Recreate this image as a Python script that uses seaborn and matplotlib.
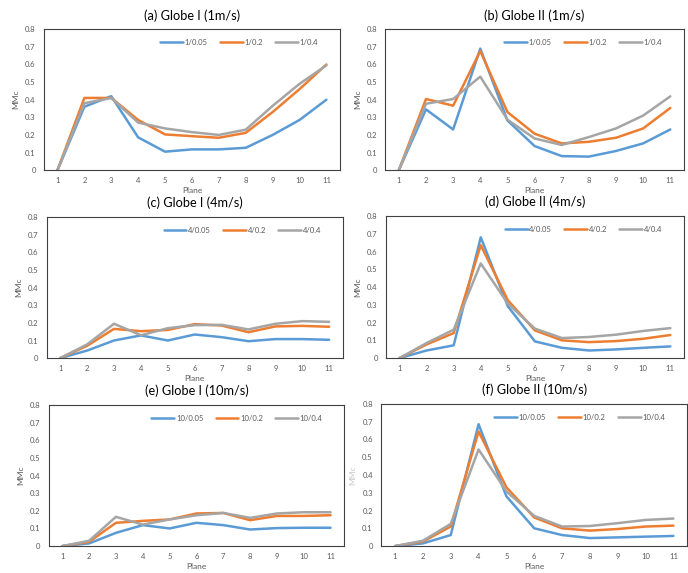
"""
MMc por plano para Globe I / Globe II a distintas velocidades.
"""

import numpy as np
import pandas as pd
import matplotlib
matplotlib.use('Agg')
import matplotlib.pyplot as plt
import seaborn as sns

planes = list(range(1, 12))
ratios = ['0.05', '0.2', '0.4']
palette = ['#5B9BD5', '#ED7D31', '#A5A5A5']

titles = [
    '(a) Globe I (1m/s)', '(b) Globe II (1m/s)',
    '(c) Globe I (4m/s)', '(d) Globe II (4m/s)',
    '(e) Globe I (10m/s)', '(f) Globe II (10m/s)',
]
speeds = ['1', '1', '4', '4', '10', '10']

# (a) Globe I, 1 m/s
a_005 = [0, 0.36, 0.42, 0.186, 0.105, 0.118, 0.118, 0.127, 0.20, 0.285, 0.40]
a_02 = [0, 0.41, 0.41, 0.285, 0.203, 0.193, 0.184, 0.212, 0.33, 0.46, 0.60]
a_04 = [0, 0.38, 0.41, 0.27, 0.237, 0.216, 0.20, 0.23, 0.365, 0.49, 0.595]

# (b) Globe II, 1 m/s
b_005 = [0, 0.345, 0.231, 0.69, 0.282, 0.137, 0.08, 0.077, 0.109, 0.152, 0.231]
b_02 = [0, 0.404, 0.366, 0.676, 0.33, 0.207, 0.152, 0.161, 0.184, 0.237, 0.353]
b_04 = [0, 0.377, 0.404, 0.531, 0.287, 0.18, 0.143, 0.188, 0.237, 0.31, 0.419]

# (c) Globe I, 4 m/s
c_005 = [0, 0.043, 0.10, 0.129, 0.10, 0.134, 0.119, 0.096, 0.108, 0.108, 0.104]
c_02 = [0, 0.07, 0.166, 0.153, 0.16, 0.193, 0.185, 0.147, 0.18, 0.183, 0.178]
c_04 = [0, 0.078, 0.195, 0.13, 0.17, 0.187, 0.189, 0.163, 0.195, 0.21, 0.206]

# (d) Globe II, 4 m/s
d_005 = [0, 0.043, 0.072, 0.68, 0.292, 0.094, 0.058, 0.043, 0.049, 0.058, 0.066]
d_02 = [0, 0.077, 0.141, 0.636, 0.326, 0.156, 0.10, 0.09, 0.096, 0.109, 0.13]
d_04 = [0, 0.085, 0.16, 0.533, 0.307, 0.166, 0.113, 0.119, 0.132, 0.153, 0.169]

# (e) Globe I, 10 m/s
e_005 = [0, 0.015, 0.075, 0.119, 0.10, 0.132, 0.119, 0.094, 0.102, 0.104, 0.104]
e_02 = [0, 0.024, 0.132, 0.143, 0.151, 0.185, 0.188, 0.147, 0.171, 0.171, 0.175]
e_04 = [0, 0.03, 0.166, 0.122, 0.151, 0.175, 0.188, 0.16, 0.185, 0.192, 0.192]

# (f) Globe II, 10 m/s
f_005 = [0, 0.015, 0.062, 0.686, 0.28, 0.10, 0.062, 0.045, 0.049, 0.053, 0.057]
f_02 = [0, 0.025, 0.11, 0.645, 0.331, 0.161, 0.10, 0.087, 0.096, 0.11, 0.115]
f_04 = [0, 0.03, 0.125, 0.544, 0.308, 0.17, 0.11, 0.113, 0.129, 0.147, 0.155]

series = [
    (a_005, a_02, a_04), (b_005, b_02, b_04),
    (c_005, c_02, c_04), (d_005, d_02, d_04),
    (e_005, e_02, e_04), (f_005, f_02, f_04),
]

# posiciones de los ejes [left, bottom, width, height] en fracción de figura
positions = [
    [0.064, 0.703, 0.430, 0.246], [0.560, 0.703, 0.434, 0.246],
    [0.068, 0.375, 0.430, 0.246], [0.561, 0.375, 0.433, 0.248],
    [0.071, 0.047, 0.429, 0.246], [0.554, 0.047, 0.445, 0.248],
]

sns.set_style('white')
plt.rcParams['font.family'] = ['Lato', 'DejaVu Sans']

TXT = '#595959'
fig = plt.figure(figsize=(6.88, 5.73), dpi=100)

for i, (pos, title, spd, vals) in enumerate(zip(positions, titles, speeds, series)):
    ax = fig.add_axes(pos)
    labels = [f'{spd}/{r}' for r in ratios]
    df = pd.DataFrame({
        'Plane': planes * 3,
        'MMc': np.concatenate(vals),
        'case': np.repeat(labels, len(planes)),
    })
    sns.lineplot(data=df, x='Plane', y='MMc', hue='case', palette=palette,
                 linewidth=1.8, ax=ax, hue_order=labels)

    ax.set_xlim(0.5, 11.5)
    ax.set_ylim(0, 0.8)
    ax.set_xticks(planes)
    ax.set_yticks(np.arange(0, 0.81, 0.1))
    ax.set_yticklabels(['0'] + [f'{v:.1f}' for v in np.arange(0.1, 0.81, 0.1)])
    ax.tick_params(length=0, labelsize=5.5, labelcolor=TXT)
    ax.tick_params(axis='x', pad=5)
    ax.tick_params(axis='y', pad=6)
    for sp in ax.spines.values():
        sp.set_visible(True)
        sp.set_color('#404040')
        sp.set_linewidth(0.8)

    ax.set_title(title, fontsize=9.2, color='black', pad=7)
    ax.set_xlabel('Plane', fontsize=6, color=TXT, labelpad=2)
    ax.set_ylabel('MMc', fontsize=6, color=TXT if i != 5 else '#c8c8c8',
                  labelpad=4)

    leg = ax.legend(loc='upper right', ncol=3, frameon=False, fontsize=5.5,
                    handlelength=3.0, handletextpad=0.2, columnspacing=1.6,
                    bbox_to_anchor=(0.95, 0.98))
    for t in leg.get_texts():
        t.set_color(TXT)

fig.savefig('out.png', dpi=100)
